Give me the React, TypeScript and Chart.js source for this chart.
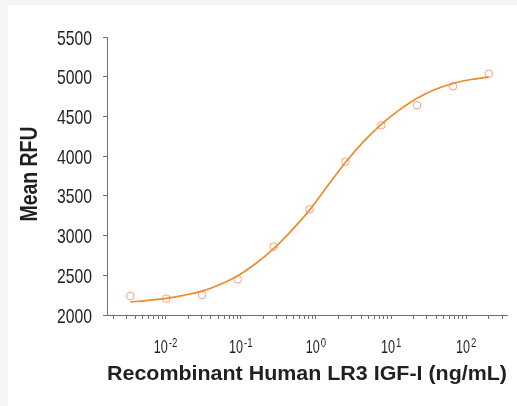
import React, { useEffect, useRef } from 'react';
import { Chart, registerables } from 'chart.js';

Chart.register(...registerables);

// Measured points (3-fold dilution series)
const doses = [0.00339, 0.0102, 0.0305, 0.0914, 0.274, 0.823, 2.47, 7.41, 22.2, 66.7, 200];
const meanRFU = [2239, 2205, 2252, 2449, 2860, 3331, 3930, 4388, 4640, 4879, 5038];

// Fitted curve
const fitDoses = [0.00339, 0.0055, 0.0102, 0.0173, 0.0305, 0.052, 0.0914, 0.157, 0.274, 0.47, 0.823, 1.42, 2.47, 4.27, 7.41, 12.8, 22.2, 38.5, 66.7, 115, 200];
const fitRFU = [2164, 2182, 2210, 2248, 2300, 2380, 2495, 2645, 2835, 3060, 3320, 3620, 3920, 4180, 4400, 4580, 4730, 4840, 4915, 4965, 4995];

// Axes
const yTicks = [2000, 2500, 3000, 3500, 4000, 4500, 5000, 5500];
const xDecades = [0.001, 0.01, 0.1, 1, 10, 100];
const xMultipliers = [1, 2, 3, 4, 5, 6, 7, 8, 9];
const xMajorExponents = [-2, -1, 0, 1, 2];
const xMin = 0.00166;
const xMax = 349;
const yMin = 2000;
const yMax = 5500;

const xTitle = 'Recombinant Human LR3 IGF-I (ng/mL)';
const yTitle = 'Mean RFU';

const SANS = '"Liberation Sans", Arial, sans-serif';
const AXIS_COLOR = '#707070';
const TEXT_COLOR = '#231f20';

function drawText(
  ctx: CanvasRenderingContext2D,
  text: string,
  x: number,
  y: number,
  font: string,
  align: 'left' | 'right' | 'center',
  scaleX: number,
  targetWidth?: number
) {
  ctx.save();
  ctx.font = font;
  ctx.textAlign = align;
  ctx.textBaseline = 'alphabetic';
  let sx = scaleX;
  if (targetWidth) {
    const w = ctx.measureText(text).width;
    if (w > 0) sx = targetWidth / w;
  }
  ctx.translate(x, y);
  ctx.scale(sx, 1);
  ctx.fillText(text, 0, 0);
  ctx.restore();
}

const labelPlugin = {
  id: 'customLabels',
  afterDraw(chart: any) {
    const ctx = chart.ctx as CanvasRenderingContext2D;
    const xs = chart.scales.x;
    const ys = chart.scales.y;
    const ca = chart.chartArea;
    ctx.save();
    ctx.fillStyle = TEXT_COLOR;

    // y tick labels
    for (const v of yTicks) {
      const py = ys.getPixelForValue(v);
      drawText(ctx, String(v), ca.left - 15, py + 7.5, '21px ' + SANS, 'right', 0.75);
    }

    // x tick labels: 10 with superscript exponent
    const baseFont = '18px ' + SANS;
    const expFont = '12px ' + SANS;
    const bScale = 0.7;
    const eScale = 0.8;
    for (const e of xMajorExponents) {
      const px = xs.getPixelForValue(Math.pow(10, e));
      const base = '10';
      const exp = String(e);
      ctx.font = baseFont;
      const wb = ctx.measureText(base).width * bScale;
      ctx.font = expFont;
      const we = ctx.measureText(exp).width * eScale;
      const start = px - (wb + we + 1) / 2;
      drawText(ctx, base, start, ca.bottom + 38, baseFont, 'left', bScale);
      drawText(ctx, exp, start + wb + 1, ca.bottom + 32, expFont, 'left', eScale);
    }

    // x title
    drawText(ctx, xTitle, (ca.left + ca.right) / 2, ca.bottom + 65, 'bold 21px ' + SANS, 'center', 1, ca.right - ca.left);

    // y title
    ctx.save();
    ctx.translate(29, (ca.top + ca.bottom) / 2 - 2);
    ctx.rotate(-Math.PI / 2);
    drawText(ctx, yTitle, 0, 0, 'bold 23px ' + SANS, 'center', 1, 95);
    ctx.restore();

    ctx.restore();
  },
};

export default function App() {
  const canvasRef = useRef<HTMLCanvasElement | null>(null);

  useEffect(() => {
    const canvas = canvasRef.current;
    if (!canvas) return;
    const xTickValues: number[] = [];
    for (const d of xDecades) {
      for (const m of xMultipliers) {
        const v = d * m;
        if (v >= xMin && v <= xMax) xTickValues.push(v);
      }
    }
    const chart = new Chart(canvas, {
      type: 'scatter',
      data: {
        datasets: [
          {
            label: 'Fit',
            data: fitDoses.map((x, i) => ({ x, y: fitRFU[i] })),
            showLine: true,
            borderColor: '#f08a2a',
            borderWidth: 1.7,
            pointRadius: 0,
            cubicInterpolationMode: 'monotone',
            fill: false,
            order: 0,
          },
          {
            label: 'Mean RFU',
            data: doses.map((x, i) => ({ x, y: meanRFU[i] })),
            showLine: false,
            pointStyle: 'circle',
            pointRadius: 3.8,
            borderWidth: 1,
            borderColor: '#f2a27e',
            backgroundColor: 'rgba(255,255,255,0)',
            order: 1,
          },
        ],
      },
      options: {
        animation: false,
        responsive: false,
        devicePixelRatio: 1,
        layout: { padding: { left: 0, top: 32, right: 10, bottom: 0 } },
        plugins: {
          legend: { display: false },
          tooltip: { enabled: false },
          title: { display: false },
        },
        scales: {
          x: {
            type: 'logarithmic',
            min: xMin,
            max: xMax,
            afterBuildTicks: (scale: any) => {
              scale.ticks = xTickValues.map((v) => ({ value: v }));
            },
            afterFit: (scale: any) => {
              scale.height = 91;
              scale.paddingLeft = 0;
              scale.paddingRight = 0;
            },
            ticks: { display: false },
            grid: {
              display: true,
              drawOnChartArea: false,
              drawTicks: true,
              tickLength: 4,
              color: AXIS_COLOR,
              lineWidth: 1,
            },
            border: { display: true, color: AXIS_COLOR, width: 1 },
            title: { display: false },
          },
          y: {
            type: 'linear',
            min: yMin,
            max: yMax,
            afterBuildTicks: (scale: any) => {
              scale.ticks = yTicks.map((v) => ({ value: v }));
            },
            afterFit: (scale: any) => {
              scale.width = 99;
              scale.paddingTop = 0;
              scale.paddingBottom = 0;
            },
            ticks: { display: false },
            grid: {
              display: true,
              drawOnChartArea: false,
              drawTicks: true,
              tickLength: 4,
              color: AXIS_COLOR,
              lineWidth: 1,
            },
            border: { display: true, color: AXIS_COLOR, width: 1 },
            title: { display: false },
          },
        },
      },
      plugins: [labelPlugin],
    } as any);
    return () => chart.destroy();
  }, []);

  return (
    <div style={{ position: 'fixed', left: 0, top: 0, width: 517, height: 406, background: '#f5f5f5', overflow: 'hidden' }}>
      <div style={{ position: 'absolute', left: 8, top: 5, width: 509, height: 401, background: '#ffffff' }}>
        <canvas ref={canvasRef} width={509} height={401} style={{ display: 'block', width: 509, height: 401 }} />
      </div>
    </div>
  );
}
